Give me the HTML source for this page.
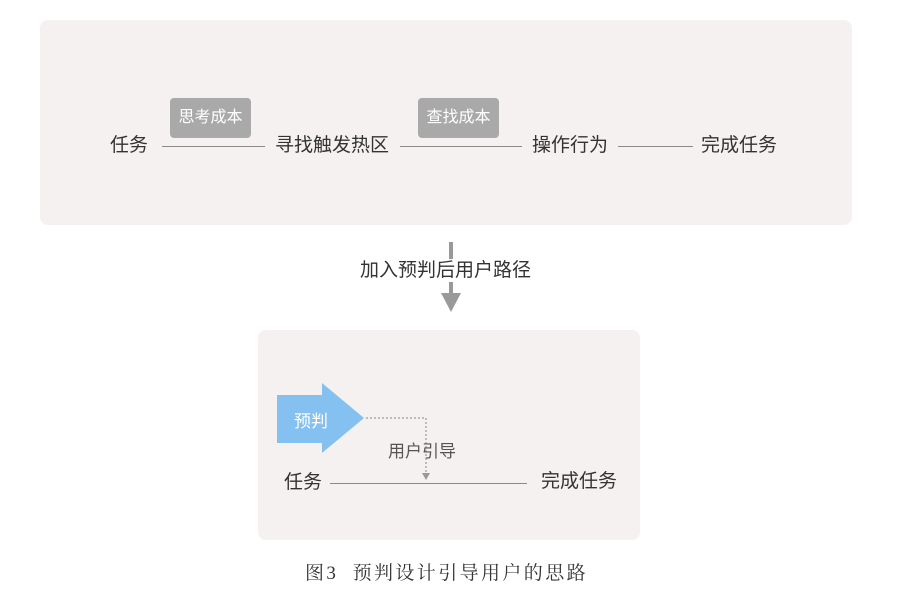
<!DOCTYPE html>
<html><head><meta charset="utf-8"><style>
body{margin:0;width:922px;height:597px;background:#fff;position:relative;overflow:hidden;font-family:"Liberation Sans","Noto Sans CJK SC",sans-serif;}
.a{position:absolute;white-space:nowrap;}
.t{font-size:19px;color:#333;line-height:22px;}
.b{background:#a9a9a9;color:#fff;font-size:16px;border-radius:4px;text-align:center;line-height:40px;}
.l{position:absolute;height:1px;background:#8a8a8a;}
</style></head><body>
<div class="a" style="left:40px;top:20px;width:812px;height:205px;background:#f4f1f0;border-radius:8px"></div>
<div class="a" style="left:258px;top:330px;width:382px;height:210px;background:#f4f1f0;border-radius:8px"></div>

<div class="a b" style="left:170px;top:98px;width:81px;height:40px">思考成本</div>
<div class="a b" style="left:418px;top:98px;width:81px;height:40px">查找成本</div>

<div class="a t" style="left:110px;top:135px">任务</div>
<div class="l" style="left:162px;top:146px;width:103px"></div>
<div class="a t" style="left:275px;top:135px">寻找触发热区</div>
<div class="l" style="left:400px;top:146px;width:122px"></div>
<div class="a t" style="left:532px;top:135px">操作行为</div>
<div class="l" style="left:618px;top:146px;width:75px"></div>
<div class="a t" style="left:701px;top:135px">完成任务</div>

<svg class="a" style="left:0;top:0" width="922" height="597">
<line x1="451" y1="242" x2="451" y2="259" stroke="#999" stroke-width="4"/>
<line x1="451" y1="282" x2="451" y2="298" stroke="#999" stroke-width="4"/>
<polygon points="441,293 461,293 451,312" fill="#999"/>
<polygon points="277,395 322,395 322,383 364,418 322,453 322,443 277,443" fill="#85c1f0"/>
<polyline points="366,418 426,418 426,474" fill="none" stroke="#aaa" stroke-width="1.5" stroke-dasharray="2,2"/>
<polygon points="422,473 430,473 426,480" fill="#999"/>
</svg>
<div class="a t" style="left:360px;top:260px">加入预判后用户路径</div>
<div class="a" style="left:294px;top:407px;color:#fff;font-size:17px">预判</div>
<div class="a" style="left:388px;top:437px;color:#555;font-size:17px">用户引导</div>
<div class="a t" style="left:284px;top:472px">任务</div>
<div class="l" style="left:330px;top:483px;width:197px"></div>
<div class="a t" style="left:541px;top:471px">完成任务</div>

<div class="a" style="left:305px;top:558px;font-size:19px;color:#333;font-family:'Liberation Serif','Noto Serif CJK SC',serif;letter-spacing:2.4px">图3&nbsp;&nbsp;预判设计引导用户的思路</div>
</body></html>
